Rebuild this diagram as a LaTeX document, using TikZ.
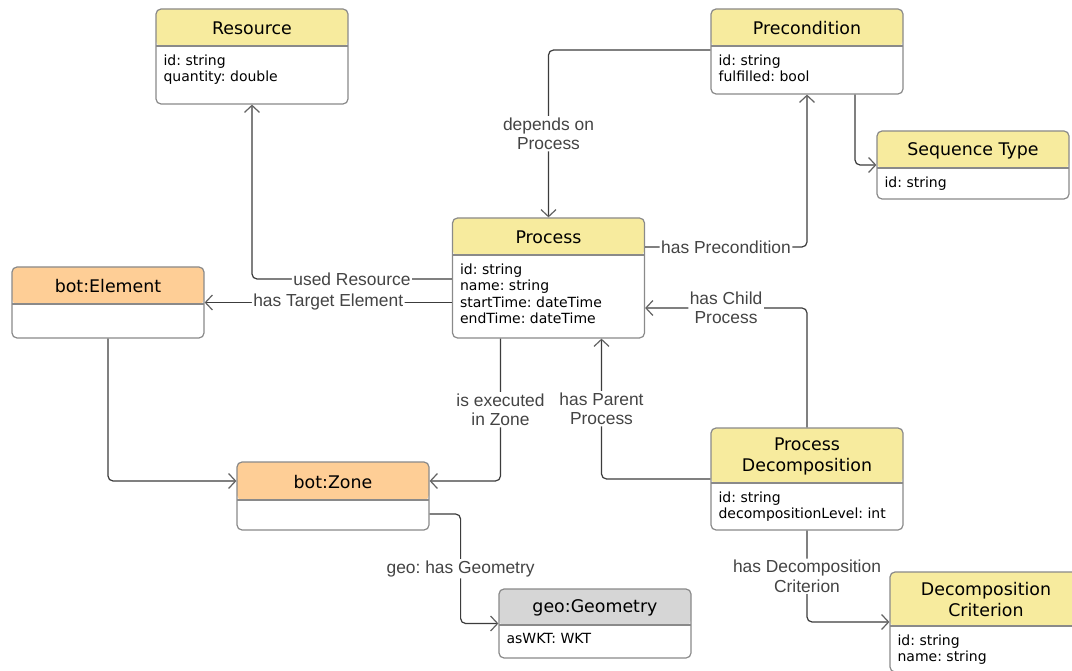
\documentclass[tikz,border=0pt]{standalone}
\usepackage{fontspec}
\setmainfont{DejaVu Sans}
\newfontfamily\lblfont{Liberation Sans}
\usetikzlibrary{arrows.meta}
\frenchspacing

\definecolor{headyellow}{HTML}{F7EB9E}
\definecolor{headorange}{HTML}{FECE96}
\definecolor{headgray}{HTML}{D6D6D6}
\definecolor{boxline}{HTML}{8A8A8A}
\definecolor{linkline}{HTML}{3C3C3C}
\definecolor{lbltext}{HTML}{444444}

\tikzset{
  classbox/.style 2 args={draw=boxline, line width=1.2pt, rounded corners=5pt,
    fill=white, inner sep=0pt,
    path picture={
      \fill[#1] (path picture bounding box.north west) rectangle
        ([yshift=-#2]path picture bounding box.north east);
      \draw[boxline, line width=1.2pt] ([yshift=-#2]path picture bounding box.north west)
        -- ([yshift=-#2]path picture bounding box.north east);}},
  ctitle/.style={font=\fontsize{17.4}{21}\selectfont, align=center, inner sep=0pt},
  cattr/.style={font=\fontsize{14}{16.4}\selectfont, align=left, inner sep=0pt,
    anchor=north west},
}

\begin{document}
\begin{tikzpicture}[x=1pt,y=-1pt,
    >={Straight Barb[length=7pt,width=15pt,color=linkline!80]},
    conn/.style={->, draw=linkline, line width=1.2pt, rounded corners=5pt},
    lbl/.style={fill=white, text=lbltext, inner sep=1.5pt, align=center,
      font=\lblfont\fontsize{17.4}{19.5}\selectfont}]

  \useasboundingbox (0,0) rectangle (1072,671);
  \fill[white] (0,0) rectangle (1072,671);
  \clip (0,0) rectangle (1072,671);

  % classes
  \node[classbox={headyellow}{37pt}, minimum width=192pt, minimum height=95pt] (res) at (252,56.5) {};
  \node[ctitle] (res-title) at ([yshift=-20pt]res.north) {Resource};
  \node[cattr] (res-attr) at ([xshift=8pt,yshift=-46pt]res.north west) {id: string\\quantity: double};

  \node[classbox={headyellow}{37pt}, minimum width=192pt, minimum height=85pt] (pre) at (807,51.5) {};
  \node[ctitle] (pre-title) at ([yshift=-20pt]pre.north) {Precondition};
  \node[cattr] (pre-attr) at ([xshift=8pt,yshift=-46pt]pre.north west) {id: string\\fulfilled: bool};

  \node[classbox={headyellow}{37pt}, minimum width=192pt, minimum height=68pt] (seq) at (973,165) {};
  \node[ctitle] (seq-title) at ([yshift=-20pt]seq.north) {Sequence Type};
  \node[cattr] (seq-attr) at ([xshift=8pt,yshift=-46pt]seq.north west) {id: string};

  \node[classbox={headyellow}{37pt}, minimum width=192pt, minimum height=120pt] (proc) at (548.5,278) {};
  \node[ctitle] (proc-title) at ([yshift=-20pt]proc.north) {Process};
  \node[cattr] (proc-attr) at ([xshift=8pt,yshift=-46pt]proc.north west)
    {id: string\\name: string\\startTime: dateTime\\endTime: dateTime};

  \node[classbox={headorange}{37pt}, minimum width=192pt, minimum height=71pt] (elem) at (108,302.5) {};
  \node[ctitle] (elem-title) at ([yshift=-20pt]elem.north) {bot:Element};

  \node[classbox={headorange}{38pt}, minimum width=192pt, minimum height=68pt] (zone) at (333,496) {};
  \node[ctitle] (zone-title) at ([yshift=-20.5pt]zone.north) {bot:Zone};

  \node[classbox={headgray}{36pt}, minimum width=192pt, minimum height=69pt] (geom) at (595,623.5) {};
  \node[ctitle] (geom-title) at ([yshift=-19.5pt]geom.north) {geo:Geometry};
  \node[cattr] (geom-attr) at ([xshift=8pt,yshift=-45pt]geom.north west) {asWKT: WKT};

  \node[classbox={headyellow}{55pt}, minimum width=192pt, minimum height=102pt] (pd) at (807,479) {};
  \node[ctitle] (pd-title) at ([yshift=-29pt]pd.north) {Process\\Decomposition};
  \node[cattr] (pd-attr) at ([xshift=8pt,yshift=-64pt]pd.north west) {id: string\\decompositionLevel: int};

  \node[classbox={headyellow}{54pt}, minimum width=192pt, minimum height=100pt] (dc) at (986,622) {};
  \node[ctitle] (dc-title) at ([yshift=-28.5pt]dc.north) {Decomposition\\Criterion};
  \node[cattr] (dc-attr) at ([xshift=8pt,yshift=-63pt]dc.north west) {id: string\\name: string};

  % relations
  \draw[conn] ([yshift=-1pt]proc.west) -| node[lbl,pos=0.25] {used Resource} (res.south);
  \draw[conn] ([yshift=-24.5pt]proc.west) -- node[lbl] {has Target Element} (elem.east);
  \draw[conn] ([yshift=1.5pt]pre.west) -| node[lbl,pos=0.75] {depends on\\Process} (proc.north);
  \draw[conn] ([yshift=31pt]proc.east) -| node[lbl,pos=0.25] {has Precondition} (pre.south);
  \draw[conn] ([xshift=48pt]pre.south) |- (seq.west);
  \draw[conn] ([xshift=-48pt]proc.south) |- node[lbl,pos=0.25] {is executed\\in Zone} ([yshift=15pt]zone.east);
  \draw[conn] (elem.south) |- ([yshift=15pt]zone.west);
  \draw[conn] (pd.west) -| node[lbl,pos=0.75] {has Parent\\Process} ([xshift=53pt]proc.south);
  \draw[conn] (pd.north) |- node[lbl,pos=0.75] {has Child\\Process} ([yshift=-30pt]proc.east);
  \draw[conn] ([yshift=-18pt]zone.east) -- ++(31pt,0) |- node[lbl,pos=0.25] {geo: has Geometry} (geom.west);
  \draw[conn] (pd.south) |- node[lbl,pos=0.25] {has Decomposition\\Criterion} (dc.west);
\end{tikzpicture}
\end{document}
